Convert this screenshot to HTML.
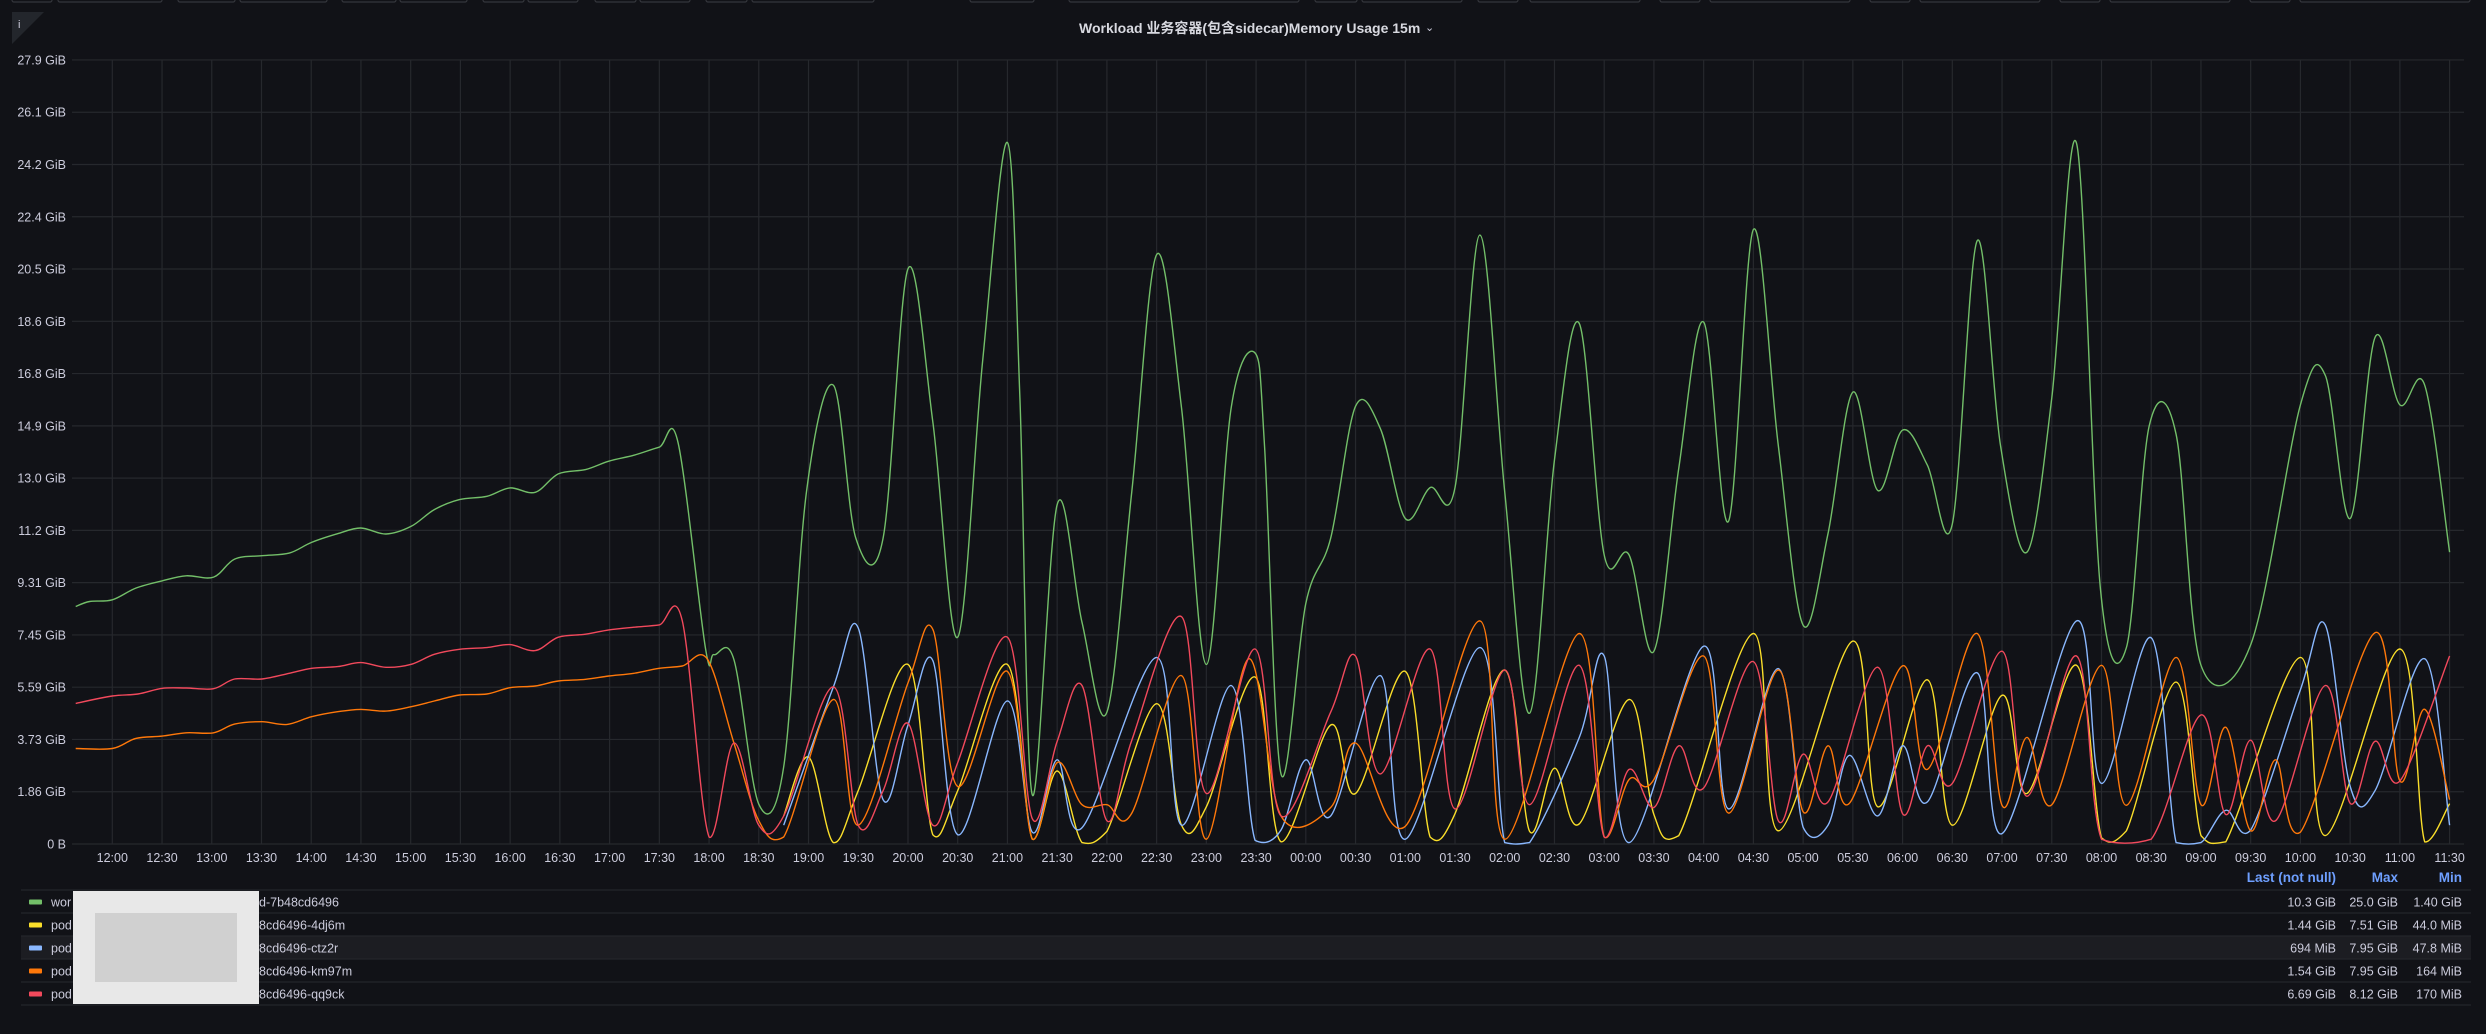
<!DOCTYPE html>
<html><head><meta charset="utf-8"><style>
html,body{margin:0;padding:0;background:#111217;width:2486px;height:1034px;overflow:hidden}
body{font-family:"Liberation Sans","Noto Sans CJK SC",sans-serif}
svg text{font-family:"Liberation Sans","Noto Sans CJK SC",sans-serif}
</style></head><body>
<svg id="s" width="2486" height="1034" xmlns="http://www.w3.org/2000/svg">
<rect width="2486" height="1034" fill="#111217"/>
<g fill="none" stroke="#34363c" stroke-width="1.2">
<rect x="12" y="-4" width="40" height="6" rx="2"/><rect x="58" y="-4" width="104" height="6" rx="2"/>
<rect x="178" y="-4" width="57" height="6" rx="2"/><rect x="240" y="-4" width="87" height="6" rx="2"/>
<rect x="342" y="-4" width="54" height="6" rx="2"/><rect x="400" y="-4" width="67" height="6" rx="2"/>
<rect x="483" y="-4" width="41" height="6" rx="2"/><rect x="528" y="-4" width="50" height="6" rx="2"/>
<rect x="595" y="-4" width="41" height="6" rx="2"/><rect x="640" y="-4" width="50" height="6" rx="2"/>
<rect x="706" y="-4" width="41" height="6" rx="2"/><rect x="752" y="-4" width="122" height="6" rx="2"/>
<rect x="970" y="-4" width="64" height="6" rx="2"/><rect x="1069" y="-4" width="230" height="6" rx="2"/>
<rect x="1315" y="-4" width="42" height="6" rx="2"/><rect x="1362" y="-4" width="100" height="6" rx="2"/>
<rect x="1478" y="-4" width="40" height="6" rx="2"/><rect x="1530" y="-4" width="110" height="6" rx="2"/>
<rect x="1660" y="-4" width="40" height="6" rx="2"/><rect x="1710" y="-4" width="140" height="6" rx="2"/>
<rect x="1870" y="-4" width="40" height="6" rx="2"/><rect x="1920" y="-4" width="120" height="6" rx="2"/>
<rect x="2060" y="-4" width="40" height="6" rx="2"/><rect x="2110" y="-4" width="120" height="6" rx="2"/>
<rect x="2250" y="-4" width="40" height="6" rx="2"/><rect x="2300" y="-4" width="170" height="6" rx="2"/>
</g>
<polygon points="12,12 44,12 12,44" fill="#23262c"/>
<text x="18" y="28" fill="#ccccdc" font-size="11">i</text>
<text x="1079" y="33" fill="#d8d9e0" font-size="14" font-weight="bold">Workload 业务容器(包含sidecar)Memory Usage 15m</text>
<text x="1425" y="31" fill="#ccccdc" font-size="11">⌄</text>
<g id="grid"></g>
<g id="lines"></g>
<g id="legend"></g>
</svg>
<script>
var NS="http://www.w3.org/2000/svg",S=document.getElementById('s');
function el(p,t,a,txt){var e=document.createElementNS(NS,t);for(var k in a)e.setAttribute(k,a[k]);if(txt!=null)e.textContent=txt;document.getElementById(p).appendChild(e);return e;}
var X=function(k){return 112.3+k*49.73},Y=function(v){return 844-v*28.06};
var yl=["0 B","1.86 GiB","3.73 GiB","5.59 GiB","7.45 GiB","9.31 GiB","11.2 GiB","13.0 GiB","14.9 GiB","16.8 GiB","18.6 GiB","20.5 GiB","22.4 GiB","24.2 GiB","26.1 GiB","27.9 GiB"];
for(var i=0;i<16;i++){var y=844-52.27*i;el('grid','line',{x1:72,x2:2464,y1:y,y2:y,stroke:'#26282d','stroke-width':1.2});
el('grid','text',{x:66,y:y+4.5,fill:'#ccccdc','font-size':12.5,'text-anchor':'end'},yl[i]);}
for(var k=0;k<=47;k++){var x=X(k);el('grid','line',{x1:x,x2:x,y1:60,y2:844,stroke:'#26282d','stroke-width':1.2});
var h=(12+Math.floor(k/2))%24,m=k%2?'30':'00';el('grid','text',{x:x,y:862,fill:'#ccccdc','font-size':12.5,'text-anchor':'middle'},(h<10?'0':'')+h+':'+m);}
function P(px){return (px-124)/118.3}
function L(py){return (8-(py-19)/156.5)*1.863}
var pre=function(a){return a.map(function(p){return [P(p[0]),L(p[1])]})};
var G=pre([[37,560],[70,545],[124,540],[180,505],[243,483],[300,468],[365,472],[415,418],[480,408],[545,400],[598,368],[660,342],[715,325],[775,343],[835,320],[890,270],[950,240],[1015,230],[1070,205],[1130,218],[1185,163],[1250,150],[1305,125],[1365,107],[1425,83],[1470,70]]).concat([[11.93,6.95],[12.1,6.75],[12.5,6.57],[13,1.42],[13.5,2.75],[13.96,12.56],[14.5,16.35],[14.95,10.9],[15.5,10.9],[16,20.5],[16.5,15.05],[17,7.37],[17.5,17.2],[18,25.0],[18.25,15.9],[18.5,1.75],[19,12.1],[19.5,7.9],[20,4.7],[20.5,12.56],[21,21.0],[21.5,15.55],[22,6.4],[22.5,15.55],[22.98,17.5],[23.17,14.2],[23.5,2.5],[24,8.57],[24.5,10.9],[25,15.6],[25.5,14.8],[26,11.6],[26.5,12.7],[27,12.7],[27.5,21.7],[28,12.56],[28.5,4.66],[29,13.7],[29.5,18.55],[30,10.3],[30.5,10.3],[31,6.87],[31.5,13.4],[32,18.6],[32.5,11.5],[33,21.9],[33.5,14.2],[34,7.8],[34.5,11.06],[35,16.1],[35.5,12.6],[36,14.75],[36.5,13.5],[37,11.4],[37.5,21.5],[37.97,14.2],[38.5,10.4],[39,15.9],[39.5,24.96],[39.98,9.07],[40.5,7.0],[40.96,14.9],[41.5,14.6],[42,6.37],[43,7.1],[44,15.65],[44.5,16.7],[45,11.6],[45.5,18.05],[46,15.65],[46.5,16.35],[47,10.4]]);
var R=pre([[37,850],[124,828],[185,822],[243,805],[300,804],[365,806],[415,777],[480,777],[545,760],[598,745],[660,740],[715,728],[775,742],[835,733],[890,703],[950,688],[1015,683],[1070,674],[1130,692],[1185,652],[1250,643],[1305,630],[1365,622],[1425,615],[1480,603]]).concat([[12,0.25],[12.5,3.6],[13,0.67],[13.5,1.0],[14.5,5.6],[15,0.67],[15.5,1.9],[16,4.3],[16.5,0.67],[17,2.9],[18,7.37],[18.5,0.9],[19,3.66],[19.5,5.65],[20,0.83],[20.5,3.7],[21.5,8.1],[22,1.8],[22.98,6.95],[23.5,1.0],[24.5,4.7],[25,6.7],[25.5,2.5],[26.5,6.95],[27,1.25],[28,6.2],[28.5,1.4],[29.5,6.37],[30,0.25],[30.5,2.66],[31,1.3],[31.5,3.5],[32,2.0],[33,6.5],[33.5,0.83],[34,3.2],[34.5,1.5],[35.5,6.3],[36,1.08],[36.5,3.5],[37,2.16],[38,6.87],[38.5,1.7],[39.5,6.7],[40,0.17],[41,0.17],[42,4.6],[42.5,1.05],[43,3.7],[43.5,0.83],[44.5,5.65],[45,1.45],[45.5,3.66],[46,2.25],[47,6.7]]);
var O=pre([[37,985],[124,985],[180,955],[243,948],[300,938],[365,938],[415,912],[480,905],[540,913],[598,890],[660,875],[715,868],[775,873],[835,860],[890,843],[950,825],[1015,822],[1070,803],[1130,798],[1185,783],[1250,778],[1305,768],[1365,760],[1425,745],[1480,738],[1540,718]]).concat([[12.5,3.6],[13,0.83],[13.5,0.25],[14.5,5.15],[15,0.67],[16,5.74],[16.5,7.65],[17,2.05],[18,6.15],[18.5,0.17],[19,2.9],[19.5,1.4],[20,1.4],[20.5,1.1],[21.5,6.0],[22,0.17],[22.85,6.6],[23.5,1.0],[24.5,1.3],[25,3.6],[26,0.63],[27.5,7.95],[28,0.17],[29.5,7.5],[30,0.25],[30.5,2.3],[31,2.3],[32,6.7],[32.5,1.1],[33.5,6.2],[34,1.15],[34.5,3.5],[34.93,1.45],[36,6.35],[36.5,2.66],[37.5,7.5],[38,1.38],[38.5,3.8],[39,1.4],[40,6.37],[40.5,1.38],[41.5,6.65],[42,1.4],[42.5,4.16],[43,0.47],[43.5,3.0],[44,0.42],[45.5,7.53],[46,2.25],[46.5,4.8],[47,1.58]]);
var B=[[13.5,0.67],[14.5,5.6],[15,7.7],[15.5,1.58],[16,4.24],[16.5,6.54],[17,0.33],[18,5.1],[18.5,0.42],[19,3.0],[19.5,0.58],[21,6.65],[21.5,0.67],[22.5,5.65],[22.98,0.13],[23.5,0.5],[24,3.0],[24.5,1.0],[25.5,6.0],[26,0.17],[27.5,7.0],[28,0.05],[28.5,0.05],[29.5,3.8],[30,6.7],[30.5,0.05],[32,7.05],[32.5,1.25],[33.5,6.25],[34,0.6],[34.5,0.67],[34.93,3.16],[35.5,1.0],[36,3.5],[36.5,1.5],[37.5,6.1],[38,0.37],[39.5,7.95],[40,2.16],[41,7.35],[41.5,0.05],[42,0.05],[42.5,1.2],[43,0.5],[44,5.5],[44.5,7.8],[45,2.05],[45.5,1.9],[46.5,6.6],[47,0.67]];
var Yw=[[13.5,1.0],[14,3.1],[14.5,0.05],[15,1.9],[16,6.4],[16.5,0.33],[17,1.9],[18,6.4],[18.5,0.17],[19,2.6],[19.5,0.05],[20,0.45],[21,5.0],[21.5,0.67],[22,1.33],[22.98,5.95],[23.5,0.08],[24.5,4.24],[25,1.8],[26,6.15],[26.5,0.25],[27,1.08],[28,6.2],[28.5,0.45],[29,2.7],[29.5,0.72],[30.5,5.15],[31,1.05],[31.5,0.3],[33,7.5],[33.5,0.47],[35,7.23],[35.5,1.33],[36.5,5.85],[37,0.67],[38,5.3],[38.5,1.8],[39.5,6.37],[40,0.22],[40.5,0.47],[41.5,5.77],[42,0.3],[42.5,0.08],[44,6.65],[44.5,0.3],[46,6.95],[46.5,0.08],[47,1.44]];
function path(d){var p=d.map(function(a){return [X(a[0]),Y(a[1])]});var s='M'+p[0][0].toFixed(1)+','+p[0][1].toFixed(1);
for(var i=0;i<p.length-1;i++){var p0=p[i-1]||p[i],p1=p[i],p2=p[i+1],p3=p[i+2]||p2,t=0.5/3;
var c1x=p1[0]+(p2[0]-p0[0])*t,c1y=p1[1]+(p2[1]-p0[1])*t,c2x=p2[0]-(p3[0]-p1[0])*t,c2y=p2[1]-(p3[1]-p1[1])*t;
c1y=Math.min(c1y,844.5);c2y=Math.min(c2y,844.5);
s+='C'+c1x.toFixed(1)+','+c1y.toFixed(1)+' '+c2x.toFixed(1)+','+c2y.toFixed(1)+' '+p2[0].toFixed(1)+','+p2[1].toFixed(1);}return s;}
[[G,'#73bf69'],[Yw,'#fade2a'],[B,'#8ab8ff'],[O,'#ff780a'],[R,'#f2495c']].forEach(function(a){el('lines','path',{d:path(a[0]),fill:'none',stroke:a[1],'stroke-width':1.4});});
el('legend','text',{x:2336,y:882,fill:'#6e9fff','font-size':13.5,'text-anchor':'end','font-weight':'bold'},'Last (not null)');
el('legend','text',{x:2398,y:882,fill:'#6e9fff','font-size':13.5,'text-anchor':'end','font-weight':'bold'},'Max');
el('legend','text',{x:2462,y:882,fill:'#6e9fff','font-size':13.5,'text-anchor':'end','font-weight':'bold'},'Min');
var rows=[['#73bf69','wor','d-7b48cd6496','10.3 GiB','25.0 GiB','1.40 GiB'],['#fade2a','pod','8cd6496-4dj6m','1.44 GiB','7.51 GiB','44.0 MiB'],['#8ab8ff','pod','8cd6496-ctz2r','694 MiB','7.95 GiB','47.8 MiB'],['#ff780a','pod','8cd6496-km97m','1.54 GiB','7.95 GiB','164 MiB'],['#f2495c','pod','8cd6496-qq9ck','6.69 GiB','8.12 GiB','170 MiB']];
for(var i=0;i<5;i++){var y0=890+23*i;if(i==2)el('legend','rect',{x:21,y:y0,width:2450,height:23,fill:'#1c1d22'});
el('legend','line',{x1:21,x2:2471,y1:y0,y2:y0,stroke:'#24262b','stroke-width':1.2});
var r=rows[i],cy=y0+12;el('legend','rect',{x:29,y:cy-2.5,width:13,height:5,rx:1,fill:r[0]});
el('legend','text',{x:51,y:cy+4.5,fill:'#ccccdc','font-size':12.5},r[1]);
el('legend','text',{x:259,y:cy+4.5,fill:'#ccccdc','font-size':12.5},r[2]);
el('legend','text',{x:2336,y:cy+4.5,fill:'#ccccdc','font-size':12.5,'text-anchor':'end'},r[3]);
el('legend','text',{x:2398,y:cy+4.5,fill:'#ccccdc','font-size':12.5,'text-anchor':'end'},r[4]);
el('legend','text',{x:2462,y:cy+4.5,fill:'#ccccdc','font-size':12.5,'text-anchor':'end'},r[5]);}
el('legend','line',{x1:21,x2:2471,y1:1005,y2:1005,stroke:'#24262b','stroke-width':1.2});
el('legend','rect',{x:73,y:891,width:186,height:113,fill:'#e8e8e8'});
el('legend','rect',{x:95,y:913,width:142,height:69,fill:'#d0d0d0'});
</script>
</body></html>
